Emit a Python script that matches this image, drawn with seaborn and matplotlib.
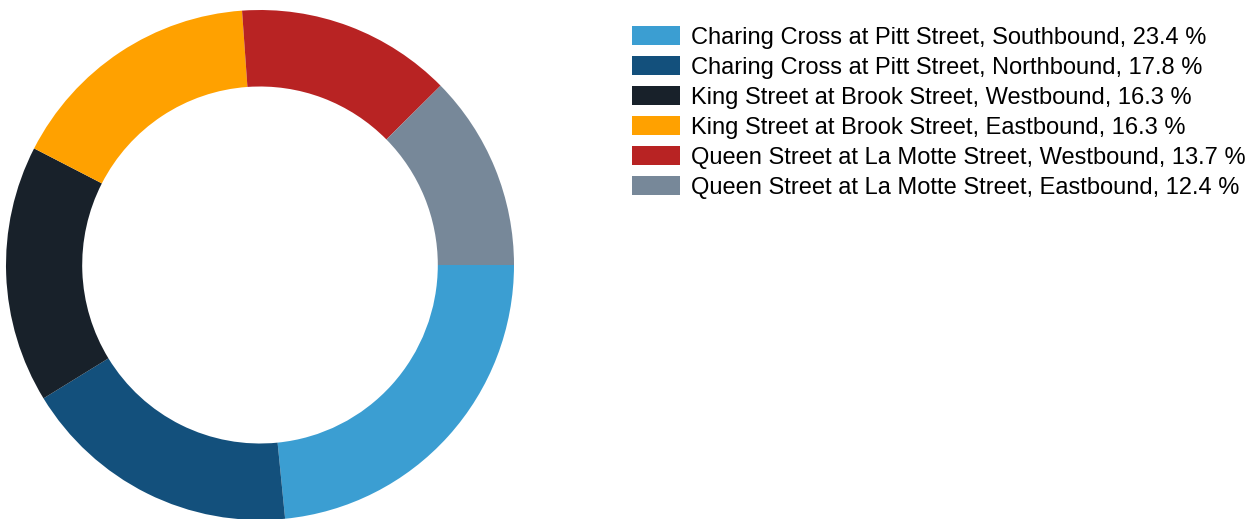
import seaborn as sns
import matplotlib.pyplot as plt

sns.set_theme(style="white")
plt.rcParams["font.family"] = ["Liberation Sans", "DejaVu Sans"]

locations = [
    "Charing Cross at Pitt Street, Southbound",
    "Charing Cross at Pitt Street, Northbound",
    "King Street at Brook Street, Westbound",
    "King Street at Brook Street, Eastbound",
    "Queen Street at La Motte Street, Westbound",
    "Queen Street at La Motte Street, Eastbound",
]
shares = [23.4, 17.8, 16.3, 16.3, 13.7, 12.4]
colors = ["#3b9ed2", "#13507c", "#18212a", "#ffa100", "#b82323", "#778899"]

fig = plt.figure(figsize=(12.6, 5.19), dpi=100)
ax = fig.add_axes([6 / 1260, -1 / 519, 508 / 1260, 510 / 519])

wedges, _ = ax.pie(shares, colors=colors, startangle=0, counterclock=False,
                   radius=1, wedgeprops=dict(width=0.3, linewidth=0))
ax.set_xlim(-1, 1)
ax.set_ylim(-1, 1)
ax.set_aspect("auto")
ax.axis("off")

labels = [f"{n}, {v} %" for n, v in zip(locations, shares)]
leg = fig.legend(wedges, labels, loc="upper left",
                 bbox_to_anchor=(632 / 1260, 1 - 26 / 519),
                 frameon=False, fontsize=17, borderpad=0, borderaxespad=0,
                 handlelength=2.03, handleheight=0.85, handletextpad=0.47,
                 labelspacing=0.315)
for t in leg.get_texts():
    t.set_color("black")

fig.savefig("out.png", dpi=100)
